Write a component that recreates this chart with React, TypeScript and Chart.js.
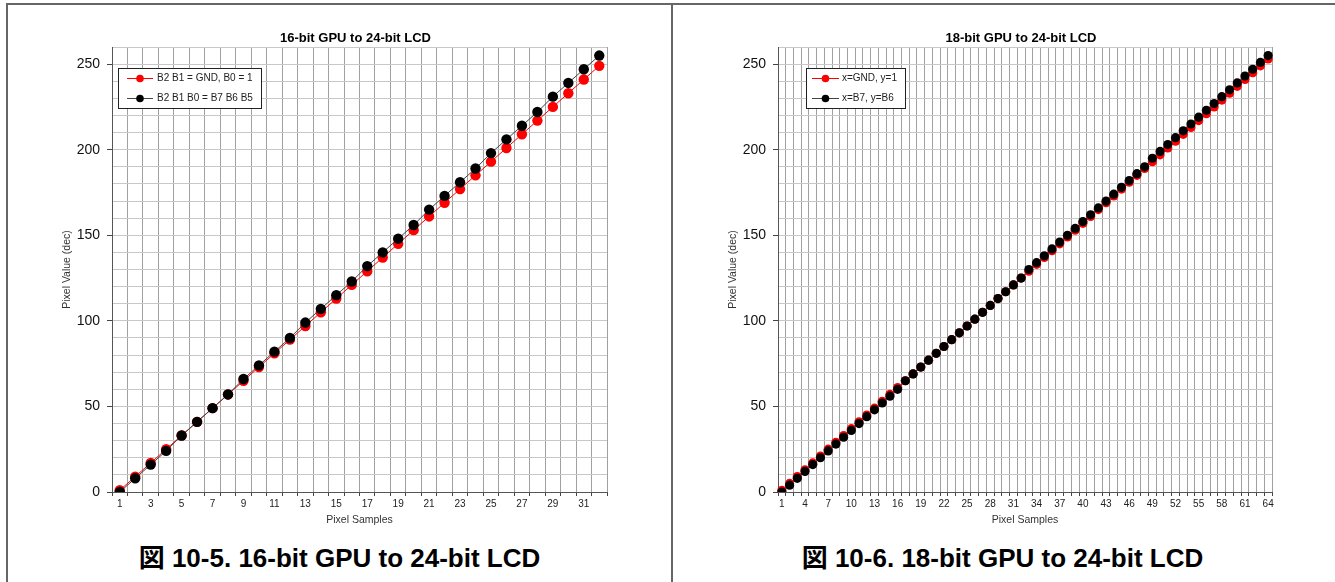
import React, { useEffect, useRef } from 'react';
import { Chart, registerables } from 'chart.js';

Chart.register(...registerables);

const FONT = '"Liberation Sans", Arial, Helvetica, sans-serif';

// ---- Data ----
const samples16 = [1, 2, 3, 4, 5, 6, 7, 8, 9, 10, 11, 12, 13, 14, 15, 16, 17, 18, 19, 20, 21, 22, 23, 24, 25, 26, 27, 28, 29, 30, 31, 32];
const gndOne16 = [1, 9, 17, 25, 33, 41, 49, 57, 65, 73, 81, 89, 97, 105, 113, 121, 129, 137, 145, 153, 161, 169, 177, 185, 193, 201, 209, 217, 225, 233, 241, 249];
const replicate16 = [0, 8, 16, 24, 33, 41, 49, 57, 66, 74, 82, 90, 99, 107, 115, 123, 132, 140, 148, 156, 165, 173, 181, 189, 198, 206, 214, 222, 231, 239, 247, 255];

const samples18 = [1, 2, 3, 4, 5, 6, 7, 8, 9, 10, 11, 12, 13, 14, 15, 16, 17, 18, 19, 20, 21, 22, 23, 24, 25, 26, 27, 28, 29, 30, 31, 32, 33, 34, 35, 36, 37, 38, 39, 40, 41, 42, 43, 44, 45, 46, 47, 48, 49, 50, 51, 52, 53, 54, 55, 56, 57, 58, 59, 60, 61, 62, 63, 64];
const gndOne18 = [1, 5, 9, 13, 17, 21, 25, 29, 33, 37, 41, 45, 49, 53, 57, 61, 65, 69, 73, 77, 81, 85, 89, 93, 97, 101, 105, 109, 113, 117, 121, 125, 129, 133, 137, 141, 145, 149, 153, 157, 161, 165, 169, 173, 177, 181, 185, 189, 193, 197, 201, 205, 209, 213, 217, 221, 225, 229, 233, 237, 241, 245, 249, 253];
const replicate18 = [0, 4, 8, 12, 16, 20, 24, 28, 32, 36, 40, 44, 48, 52, 56, 60, 65, 69, 73, 77, 81, 85, 89, 93, 97, 101, 105, 109, 113, 117, 121, 125, 130, 134, 138, 142, 146, 150, 154, 158, 162, 166, 170, 174, 178, 182, 186, 190, 195, 199, 203, 207, 211, 215, 219, 223, 227, 231, 235, 239, 243, 247, 251, 255];

const legend16 = ['B2 B1 = GND, B0 = 1', 'B2 B1 B0 = B7 B6 B5'];
const legend18 = ['x=GND, y=1', 'x=B7, y=B6'];

const yMin = 0;
const yMax = 260;
const yStep = 10;
const yLabelEvery = 50;

const title16 = '16-bit GPU to 24-bit LCD';
const title18 = '18-bit GPU to 24-bit LCD';
const caption16 = '図 10-5. 16-bit GPU to 24-bit LCD';
const caption18 = '図 10-6. 18-bit GPU to 24-bit LCD';
const xTitle = 'Pixel Samples';
const yTitle = 'Pixel Value (dec)';

const overlayPlugin = {
  id: 'overlay',
  afterDatasetsDraw(chart: any, _args: any, opts: any) {
    const ctx = chart.ctx as CanvasRenderingContext2D;
    const a = chart.chartArea;
    ctx.save();
    // title
    ctx.font = `bold 13px ${FONT}`;
    ctx.fillStyle = '#000';
    ctx.textAlign = 'center';
    ctx.textBaseline = 'middle';
    ctx.fillText(opts.title, (a.left + a.right) / 2 - 4, a.top - 9);

    // legend box
    const bx = Math.round(a.left + opts.legendX);
    const by = Math.round(a.top + 21);
    ctx.font = `10px ${FONT}`;
    const ds = chart.data.datasets;
    let tw = 0;
    ds.forEach((d: any) => {
      tw = Math.max(tw, ctx.measureText(d.label).width);
    });
    const w = Math.round(opts.textX + tw + 8);
    const h = 40;
    ctx.fillStyle = '#fff';
    ctx.fillRect(bx, by, w, h);
    ctx.strokeStyle = '#222';
    ctx.lineWidth = 1;
    ctx.strokeRect(bx + 0.5, by + 0.5, w, h);
    ds.forEach((d: any, i: number) => {
      const y = by + 10.5 + i * 20;
      ctx.strokeStyle = d.borderColor;
      ctx.lineWidth = 1;
      ctx.beginPath();
      ctx.moveTo(bx + opts.lineX0, y);
      ctx.lineTo(bx + opts.lineX1, y);
      ctx.stroke();
      ctx.fillStyle = d.pointBackgroundColor;
      ctx.beginPath();
      ctx.arc(bx + (opts.lineX0 + opts.lineX1) / 2, y, 3.8, 0, Math.PI * 2);
      ctx.fill();
      ctx.fillStyle = '#222';
      ctx.textAlign = 'left';
      ctx.textBaseline = 'middle';
      ctx.fillText(d.label, bx + opts.textX, y);
    });
    ctx.restore();
  },
};

type Props = {
  left: number;
  top: number;
  width: number;
  height: number;
  labels: number[];
  low: number[];
  high: number[];
  legend: string[];
  title: string;
  labelStep: number;
  radius: number;
  plotRightPad: number;
  yWidth: number;
  yTitlePad: number;
  legendX: number;
  lineX0: number;
  lineX1: number;
  textX: number;
};

function LcdChart(p: Props) {
  const ref = useRef<HTMLCanvasElement>(null);
  useEffect(() => {
    if (!ref.current) return;
    const chart = new Chart(ref.current, {
      type: 'line',
      data: {
        labels: p.labels.map(String),
        datasets: [
          {
            label: p.legend[0],
            data: p.low,
            borderColor: '#ff0000',
            backgroundColor: '#ff0000',
            pointBackgroundColor: '#ff0000',
            pointBorderColor: '#ff0000',
            pointBorderWidth: 0,
            pointRadius: p.radius,
            borderWidth: 1,
            tension: 0,
            order: 1,
          },
          {
            label: p.legend[1],
            data: p.high,
            borderColor: '#444444',
            backgroundColor: '#000000',
            pointBackgroundColor: '#000000',
            pointBorderColor: '#000000',
            pointBorderWidth: 0,
            pointRadius: p.radius,
            borderWidth: 1,
            tension: 0,
            order: 0,
          },
        ],
      },
      options: {
        animation: false,
        responsive: false,
        events: [],
        layout: { padding: { left: 0, right: p.plotRightPad, top: 39, bottom: 0 } },
        plugins: {
          legend: { display: false },
          title: { display: false },
          tooltip: { enabled: false },
          overlay: {
            title: p.title,
            legendX: p.legendX,
            lineX0: p.lineX0,
            lineX1: p.lineX1,
            textX: p.textX,
          },
        } as any,
        scales: {
          x: {
            type: 'category',
            offset: true,
            grid: {
              offset: true,
              color: '#a0a0a0',
              lineWidth: 1,
              tickLength: 4,
              tickColor: '#444',
            },
            border: { color: '#555', width: 1 },
            ticks: {
              autoSkip: false,
              maxRotation: 0,
              minRotation: 0,
              padding: 2,
              color: '#222',
              font: { family: FONT, size: 10 },
              callback: (_v: any, idx: number) => (idx % p.labelStep === 0 ? String(p.labels[idx]) : ''),
            },
            title: {
              display: true,
              text: xTitle,
              color: '#333',
              font: { family: FONT, size: 10.5 },
              padding: { top: 0, bottom: 12 },
            },
            afterFit: (s: any) => {
              s.height = 46;
              s.paddingLeft = 0;
              s.paddingRight = 0;
            },
          },
          y: {
            type: 'linear',
            min: yMin,
            max: yMax,
            grid: {
              color: '#c8c8c8',
              lineWidth: 1,
              tickLength: 5,
              tickColor: (c: any) => (c.tick && c.tick.value % yLabelEvery === 0 ? '#444' : 'rgba(0,0,0,0)'),
            },
            border: { color: '#555', width: 1 },
            ticks: {
              stepSize: yStep,
              autoSkip: false,
              padding: 7,
              color: '#111',
              font: { family: FONT, size: 14 },
              callback: (v: any) => (Number(v) % yLabelEvery === 0 ? String(v) : ''),
            },
            title: {
              display: true,
              text: yTitle,
              color: '#333',
              font: { family: FONT, size: 10.5 },
              padding: { top: p.yTitlePad, bottom: 0 },
            },
            afterFit: (s: any) => {
              s.width = p.yWidth;
              s.paddingTop = 0;
              s.paddingBottom = 0;
            },
          },
        },
      } as any,
      plugins: [overlayPlugin],
    });
    return () => chart.destroy();
  }, []);
  return (
    <div style={{ position: 'absolute', left: p.left, top: p.top, width: p.width, height: p.height }}>
      <canvas ref={ref} width={p.width} height={p.height} style={{ width: p.width, height: p.height, display: 'block' }} />
    </div>
  );
}

const captionStyle = (left: number, width: number): React.CSSProperties => ({
  position: 'absolute',
  left,
  width,
  top: 542,
  height: 32,
  lineHeight: '32px',
  textAlign: 'center',
  fontFamily: `${FONT}, "Noto Sans CJK JP"`,
  fontWeight: 'bold',
  fontSize: 26,
  color: '#000',
  whiteSpace: 'nowrap',
});

const line = (left: number, top: number, width: number, height: number): React.CSSProperties => ({
  position: 'absolute',
  left,
  top,
  width,
  height,
  background: '#666',
});

export default function App() {
  return (
    <div style={{ position: 'absolute', left: 0, top: 0, width: 1335, height: 582, background: '#fff', overflow: 'hidden' }}>
      <div style={line(6, 3, 1329, 2)} />
      <div style={line(6, 3, 2, 579)} />
      <div style={line(671, 3, 2, 579)} />
      <LcdChart
        left={8}
        top={8}
        width={660}
        height={530}
        labels={samples16}
        low={gndOne16}
        high={replicate16}
        legend={legend16}
        title={title16}
        labelStep={2}
        radius={5.2}
        plotRightPad={61}
        yWidth={104}
        yTitlePad={53}
        legendX={6}
        lineX0={9}
        lineX1={35}
        textX={39}
      />
      <LcdChart
        left={676}
        top={8}
        width={656}
        height={530}
        labels={samples18}
        low={gndOne18}
        high={replicate18}
        legend={legend18}
        title={title18}
        labelStep={3}
        radius={4.6}
        plotRightPad={60}
        yWidth={102}
        yTitlePad={51}
        legendX={28}
        lineX0={6}
        lineX1={33}
        textX={36}
      />
      <div style={captionStyle(8, 663)}>{caption16}</div>
      <div style={captionStyle(673, 659)}>{caption18}</div>
    </div>
  );
}
